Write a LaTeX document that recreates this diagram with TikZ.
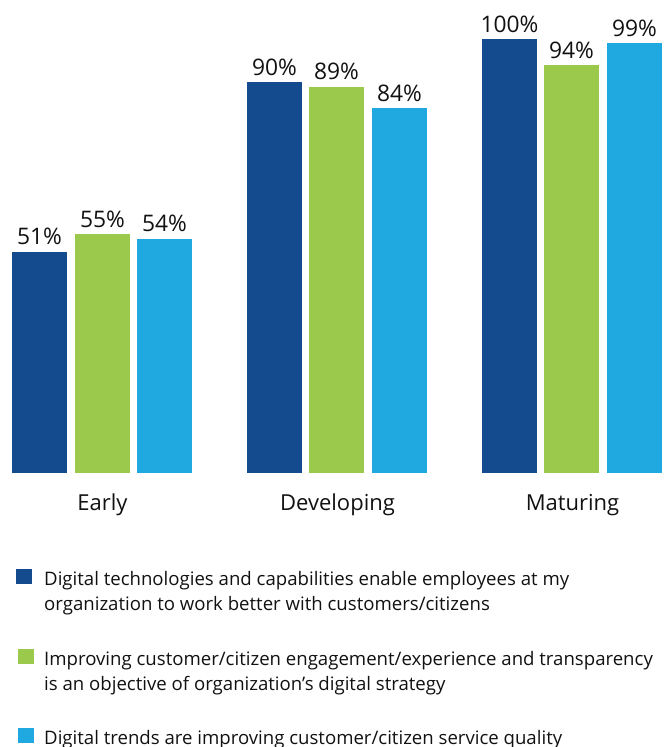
\documentclass[tikz,border=0pt]{standalone}
\usepackage{fontspec}
\setmainfont{Open Sans}
\definecolor{cdark}{HTML}{134B8E}
\definecolor{cgreen}{HTML}{9BC94B}
\definecolor{clight}{HTML}{1FA9E0}
\definecolor{ltxt}{HTML}{111111}
\begin{document}
\begin{tikzpicture}[x=1pt,y=-1pt,
  pct/.style={anchor=base,inner sep=0pt,font=\fontsize{22.8}{22.8}\selectfont,text=ltxt},
  cat/.style={anchor=base,inner sep=0pt,font=\fontsize{22}{22}\selectfont,text=ltxt},
  leg/.style={anchor=base west,inner sep=0pt,font=\fontsize{18.6}{18.6}\selectfont,text=ltxt},
  sq/.style={minimum width=16pt,minimum height=15pt,inner sep=0pt,anchor=north west}]
\useasboundingbox (0,0) rectangle (672,747);
\def\bw{55}
\def\base{473}
% bar macro: x, value, color, name
\newcommand\mybar[4]{%
  \fill[#3] (#1,\base) rectangle ({#1+\bw},{\base-4.34*#2});
  \node[pct] (#4) at ({#1+\bw/2},{\base-4.34*#2-7}) {#2\%};
}
\mybar{12}{51}{cdark}{e1}
\mybar{75}{55}{cgreen}{e2}
\mybar{137}{54}{clight}{e3}
\mybar{247}{90}{cdark}{d1}
\mybar{309}{89}{cgreen}{d2}
\mybar{372}{84}{clight}{d3}
\mybar{482}{100}{cdark}{m1}
\mybar{544}{94}{cgreen}{m2}
\mybar{607}{99}{clight}{m3}
\node[cat] (early) at (102.5,510) {Early};
\node[cat] (dev) at (337.5,510) {Developing};
\node[cat] (mat) at (572.5,510) {Maturing};
% legend
\node[sq,fill=cdark] (s1) at (16,569) {};
\node[leg] (l1a) at (44,585) {Digital technologies and capabilities enable employees at my};
\node[leg] (l1b) at (44,610) {organization to work better with customers/citizens};
\node[sq,fill=cgreen] (s2) at (18,649) {};
\node[leg] (l2a) at (44,665) {Improving customer/citizen engagement/experience and transparency};
\node[leg] (l2b) at (44,690) {is an objective of organization’s digital strategy};
\node[sq,fill=clight] (s3) at (18,728) {};
\node[leg] (l3a) at (44,744) {Digital trends are improving customer/citizen service quality};
\end{tikzpicture}
\end{document}
